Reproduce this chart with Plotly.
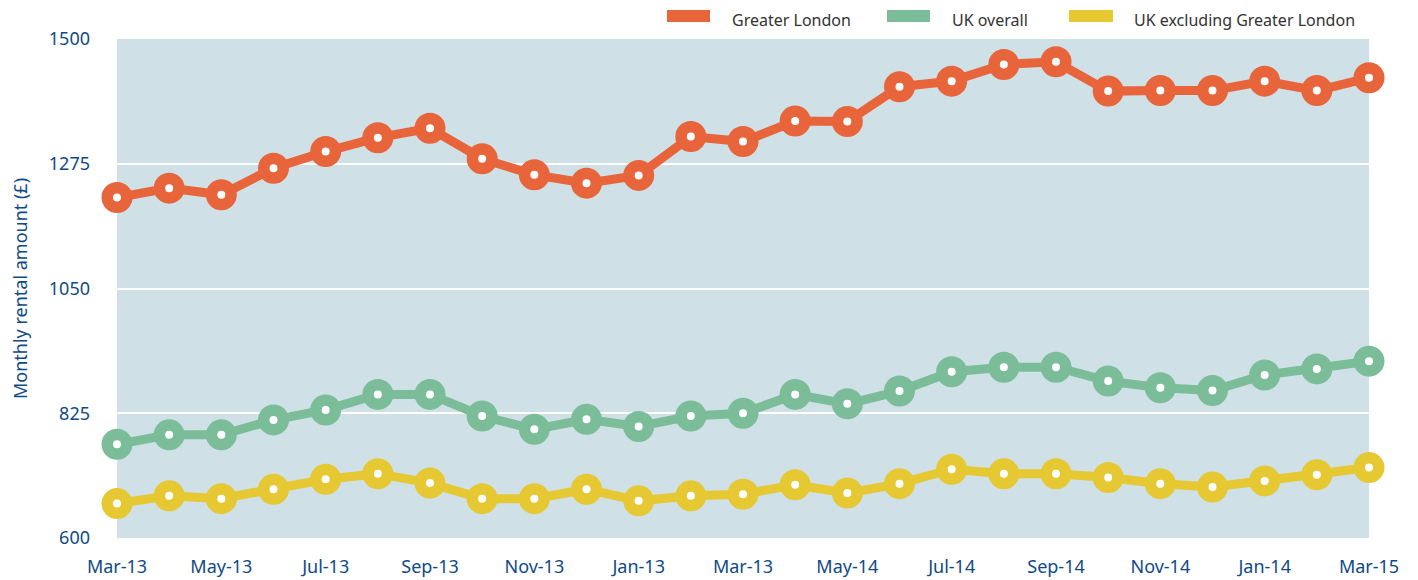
import plotly.graph_objects as go

tick_labels = ["Mar-13", "May-13", "Jul-13", "Sep-13", "Nov-13", "Jan-13", "Mar-13",
               "May-14", "Jul-14", "Sep-14", "Nov-14", "Jan-14", "Mar-15"]
months = list(range(25))

greater_london = [1214, 1231, 1219, 1267, 1297, 1322, 1339, 1284, 1255, 1240, 1254, 1324, 1315,
                  1352, 1351, 1414, 1424, 1454, 1459, 1406, 1407, 1407, 1424, 1407, 1430]
uk_overall = [769, 786, 786, 813, 831, 859, 859, 820, 796, 814, 801, 820, 825,
              859, 842, 865, 900, 908, 908, 883, 871, 866, 894, 905, 919]
uk_excl_london = [662, 676, 671, 688, 706, 716, 699, 671, 671, 688, 667, 676, 679,
                  696, 681, 698, 724, 716, 716, 709, 698, 692, 703, 714, 727]

series = [
    ("Greater London", greater_london, "#E8643A"),
    ("UK overall", uk_overall, "#7BBD98"),
    ("UK excluding Greater London", uk_excl_london, "#E6C832"),
]

FONT = "Noto Sans"
BLUE = "#0F4A86"

fig = go.Figure()
for name, vals, col in series:
    fig.add_trace(go.Scatter(
        x=months, y=vals, name=name, mode="lines+markers",
        line=dict(color=col, width=9),
        marker=dict(size=19.5, color="white", line=dict(color=col, width=11.5)),
        cliponaxis=False, showlegend=False,
    ))

# page offset of 8px (body margin) -> work in screen pixels
OFF = 8
FW, FH = 1418 - OFF, 580 - OFF
L, R, T, B = 117, 1369, 39, 538
W, H = R - L, B - T
def px(xp):
    return (xp - L) / W
def py(yp):
    return (B - yp) / H

legend_pos = [(667, 710, 733), (887, 930, 953), (1069, 1113, 1135)]
for (name, vals, col), (x0, x1, xt) in zip(series, legend_pos):
    fig.add_shape(type="rect", xref="paper", yref="paper",
                  x0=px(x0), x1=px(x1), y0=py(22), y1=py(10),
                  fillcolor=col, line=dict(width=0))
    fig.add_annotation(xref="paper", yref="paper", x=px(xt), y=py(8),
                       text=name, showarrow=False, xanchor="left", yanchor="top",
                       xshift=-2, borderpad=0,
                       font=dict(family=FONT, size=16, color="#333333"))

fig.update_layout(
    width=FW, height=FH,
    margin=dict(l=L - OFF, r=1418 - R, t=T - OFF, b=580 - B, pad=0, autoexpand=False),
    paper_bgcolor="white", plot_bgcolor="#CFE0E6",
    font=dict(family=FONT, size=18, color=BLUE),
    xaxis=dict(range=[0, 24], tickmode="array", tickvals=months[::2], ticktext=tick_labels,
               showgrid=False, zeroline=False, showline=False, ticks="", automargin=False,
               ticklabelstandoff=16, tickfont=dict(family=FONT, size=18, color=BLUE)),
    yaxis=dict(range=[600, 1500], tickmode="array", tickvals=[600, 825, 1050, 1275, 1500],
               showgrid=True, gridcolor="white", gridwidth=2, zeroline=False, showline=False,
               ticks="", ticklabelstandoff=26, automargin=False,
               tickfont=dict(family=FONT, size=18, color=BLUE),
               title=dict(text="Monthly rental amount (£)", standoff=16,
                          font=dict(family=FONT, size=18, color=BLUE))),
)

fig.write_html("out.html")
